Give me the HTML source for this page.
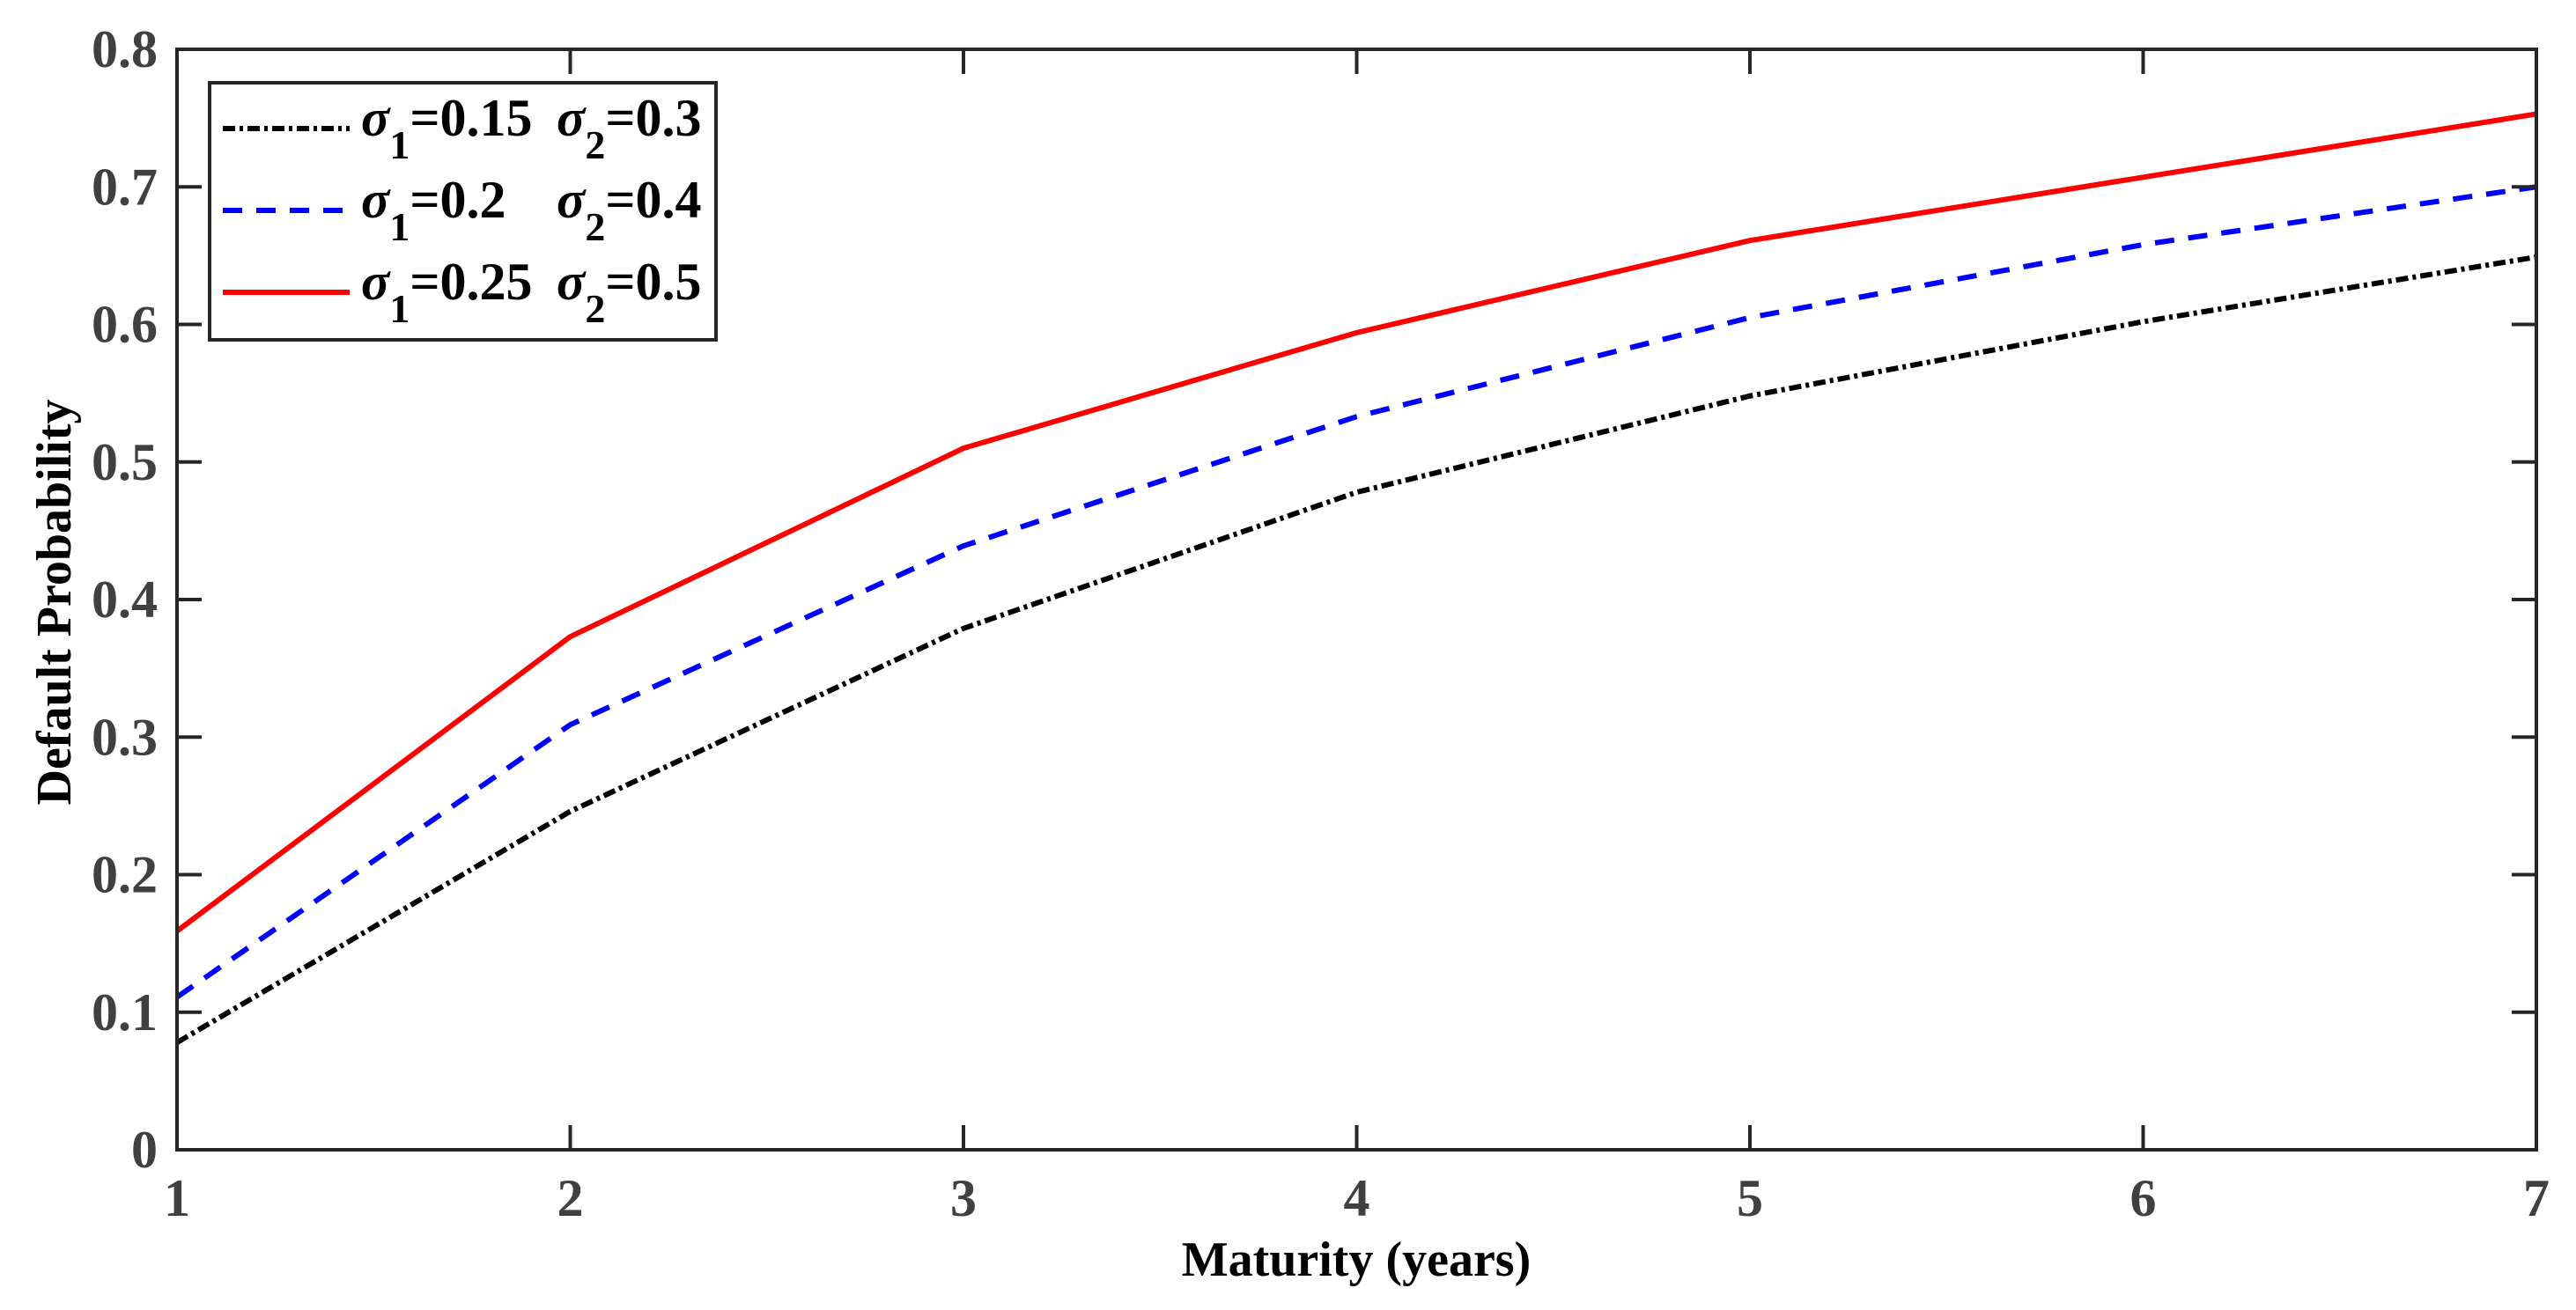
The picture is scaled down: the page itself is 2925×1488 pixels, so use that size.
<!DOCTYPE html>
<html><head><meta charset="utf-8"><style>
html,body{margin:0;padding:0;background:#fff}
svg{display:block}
text{font-family:"Liberation Serif",serif;font-weight:bold}
</style></head><body>
<svg id="chart" width="2925" height="1488" viewBox="0 0 2925 1488" xmlns="http://www.w3.org/2000/svg">
<rect width="2925" height="1488" fill="#fff"/>
<g id="series"></g>
<rect x="201" y="56" width="2679" height="1250" fill="none" stroke="#262626" stroke-width="4"/>
<g id="ticks"></g>
<text x="1540" y="1449" font-size="56" text-anchor="middle" fill="#000">Maturity (years)</text>
<text transform="translate(80,684) rotate(-90)" font-size="56" text-anchor="middle" fill="#000">Default Probability</text>
<g>
<rect x="238" y="94" width="575" height="292" fill="#fff" stroke="#262626" stroke-width="4"/>
<line x1="253" y1="146" x2="397" y2="146" stroke="#000" stroke-width="6" stroke-dasharray="14,5,4,5"/>
<line x1="253" y1="239" x2="397" y2="239" stroke="#0000ff" stroke-width="6" stroke-dasharray="22,16"/>
<line x1="253" y1="332" x2="397" y2="332" stroke="#ff0000" stroke-width="6"/>
<text x="410" y="154" font-size="60" fill="#000"><tspan font-style="italic">σ</tspan><tspan dy="26" font-size="46">1</tspan><tspan dy="-26">=0.15</tspan><tspan x="632" font-style="italic">σ</tspan><tspan dy="26" font-size="46">2</tspan><tspan dy="-26">=0.3</tspan></text>
<text x="410" y="247" font-size="60" fill="#000"><tspan font-style="italic">σ</tspan><tspan dy="26" font-size="46">1</tspan><tspan dy="-26">=0.2</tspan><tspan x="632" font-style="italic">σ</tspan><tspan dy="26" font-size="46">2</tspan><tspan dy="-26">=0.4</tspan></text>
<text x="410" y="340" font-size="60" fill="#000"><tspan font-style="italic">σ</tspan><tspan dy="26" font-size="46">1</tspan><tspan dy="-26">=0.25</tspan><tspan x="632" font-style="italic">σ</tspan><tspan dy="26" font-size="46">2</tspan><tspan dy="-26">=0.5</tspan></text>
</g>
</svg>
<script>
const maturities = [1, 2, 3, 4, 5, 6, 7];
const seriesLow = [0.078, 0.246, 0.379, 0.478, 0.548, 0.602, 0.649];
const seriesMid = [0.111, 0.309, 0.439, 0.533, 0.605, 0.658, 0.700];
const seriesHigh = [0.159, 0.373, 0.510, 0.594, 0.661, 0.707, 0.753];
const xTicks = [1, 2, 3, 4, 5, 6, 7];
const yTicks = [0, 0.1, 0.2, 0.3, 0.4, 0.5, 0.6, 0.7, 0.8];
const yTickLabels = ["0", "0.1", "0.2", "0.3", "0.4", "0.5", "0.6", "0.7", "0.8"];

const L = 201, R = 2880, T = 56, B = 1306;
const xs = v => L + (v - 1) / 6 * (R - L);
const ys = v => B - v / 0.8 * (B - T);
const NS = "http://www.w3.org/2000/svg";
const ticks = document.getElementById('ticks');
const seriesG = document.getElementById('series');

function mk(tag, attrs, parent) {
  const e = document.createElementNS(NS, tag);
  for (const k in attrs) e.setAttribute(k, attrs[k]);
  parent.appendChild(e);
  return e;
}

xTicks.forEach(v => {
  const x = xs(v);
  const t1 = mk('line', {x1: x, y1: B, x2: x, y2: B - 28, stroke: '#262626', 'stroke-width': 4}, ticks);
  
  
  const t2 = mk('line', {x1: x, y1: T, x2: x, y2: T + 28, stroke: '#262626', 'stroke-width': 4}, ticks);
  
  
  const lb = mk('text', {x: x, y: 1381, 'font-size': 60, 'text-anchor': 'middle', fill: '#404040'}, ticks);
  lb.textContent = String(v);
  
  
});
yTicks.forEach((v, i) => {
  const y = ys(v);
  const t1 = mk('line', {x1: L, y1: y, x2: L + 28, y2: y, stroke: '#262626', 'stroke-width': 4}, ticks);
  
  
  const t2 = mk('line', {x1: R, y1: y, x2: R - 28, y2: y, stroke: '#262626', 'stroke-width': 4}, ticks);
  
  
  const lb = mk('text', {x: 179, y: y + 20, 'font-size': 60, 'text-anchor': 'end', fill: '#404040'}, ticks);
  lb.textContent = yTickLabels[i];
  
  
});

function drawLine(vals, color, dash, name) {
  const pts = vals.map((v, i) => xs(maturities[i]) + ',' + ys(v)).join(' ');
  const p = mk('polyline', {points: pts, fill: 'none', stroke: color, 'stroke-width': 6, 'stroke-linejoin': 'round'}, seriesG);
  if (dash) p.setAttribute('stroke-dasharray', dash);
  
  
}
drawLine(seriesLow, '#000', '14,5,4,5', 'series-sigma-0.15');
drawLine(seriesMid, '#0000ff', '22,16', 'series-sigma-0.2');
drawLine(seriesHigh, '#ff0000', null, 'series-sigma-0.25');
</script>
</body></html>
